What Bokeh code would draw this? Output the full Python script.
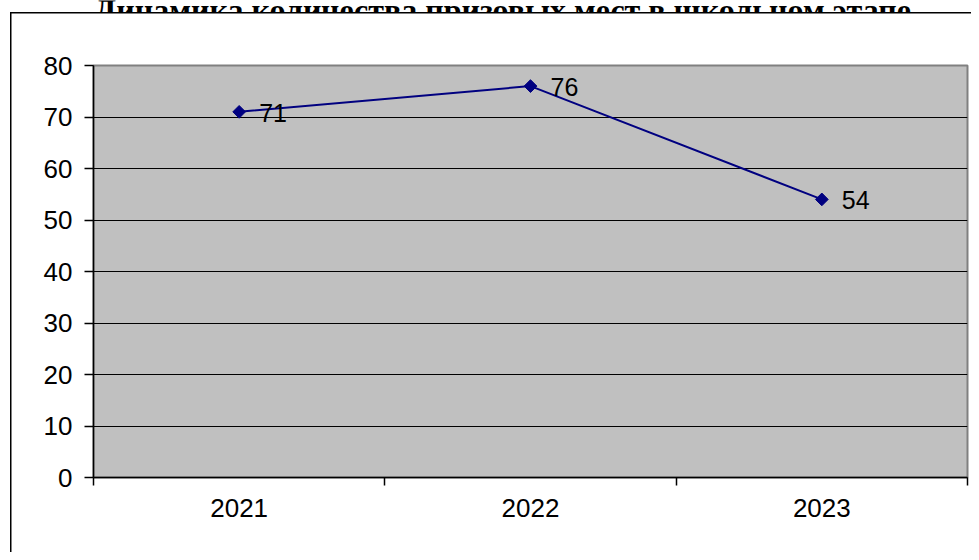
import math
from bokeh.plotting import figure
from bokeh.layouts import column
from bokeh.models import Range1d, FixedTicker, ColumnDataSource
from bokeh.core.properties import value
from bokeh.embed import file_html
from bokeh.resources import INLINE

# ---- data ----
title_text = "Динамика количества призовых мест в школьном этапе"
years = ["2021", "2022", "2023"]
values = [71, 76, 54]
y_ticks = [0, 10, 20, 30, 40, 50, 60, 70, 80]

xs = [i + 0.5 for i in range(len(years))]
src = ColumnDataSource(dict(x=xs, y=values, lbl=[str(v) for v in values]))

W = 971
TH = 12          # height of the (clipped) title strip
H = 540

# ---- title strip: the title is cut off at the top, as in the reference ----
t = figure(width=W, height=TH, output_backend="svg", toolbar_location=None,
           x_range=Range1d(0, W), y_range=Range1d(0, TH),
           x_axis_location=None, y_axis_location=None,
           min_border=0, min_border_left=0, min_border_right=0,
           min_border_top=0, min_border_bottom=0)
t.grid.visible = False
t.outline_line_color = None
t.background_fill_color = "white"
t.border_fill_color = "white"
t.text(x=[W / 2 - 31], y=[TH - 9.5], text=[title_text],
       text_align="center", text_baseline="alphabetic",
       text_font=value("Liberation Serif"), text_font_style="bold",
       text_font_size="32px", text_color="black")

# ---- main chart ----
p = figure(width=W, height=H, output_backend="svg", toolbar_location=None,
           x_range=Range1d(0, len(years)), y_range=Range1d(0, 80),
           min_border_left=93, min_border_top=53, min_border_right=4,
           min_border_bottom=75)

# outer chart border drawn by the host element's background
p.border_fill_color = None
p.styles = {
    "background-color": "white",
    "background-image": "linear-gradient(black, black), linear-gradient(black, black)",
    "background-size": "1.5px 100%, 100% 1.5px",
    "background-position": "10px 0px, 10px 0px",
    "background-repeat": "no-repeat",
}

p.background_fill_color = "#C0C0C0"
p.outline_line_color = "#808080"
p.outline_line_width = 2

# x axis
p.xaxis.ticker = FixedTicker(ticks=xs, minor_ticks=list(range(len(years) + 1)))
p.xaxis.major_label_overrides = {x: y for x, y in zip(xs, years)}
p.xaxis.major_tick_out = 0
p.xaxis.major_tick_in = 0
p.xaxis.minor_tick_out = 8
p.xaxis.minor_tick_in = 0
p.xaxis.minor_tick_line_color = "black"
p.xaxis.minor_tick_line_width = 1.5
p.xaxis.major_label_standoff = 13

# y axis
p.yaxis.ticker = FixedTicker(ticks=y_ticks, minor_ticks=[])
p.yaxis.major_tick_out = 9
p.yaxis.major_tick_in = 0
p.yaxis.major_label_standoff = 12

for ax in (p.xaxis, p.yaxis):
    ax.axis_line_color = "black"
    ax.axis_line_width = 1.5
    ax.major_tick_line_color = "black"
    ax.major_tick_line_width = 1.5
    ax.major_label_text_font = "Liberation Sans"
    ax.major_label_text_font_size = "26px"
    ax.major_label_text_color = "black"

p.xgrid.visible = False
p.ygrid.ticker = FixedTicker(ticks=y_ticks[1:-1])
p.ygrid.grid_line_color = "black"
p.ygrid.grid_line_width = 1.2
p.ygrid.grid_line_alpha = 1

# series
p.line("x", "y", source=src, line_color="#000080", line_width=2)
p.scatter("x", "y", source=src, marker="square", size=9, angle=math.pi / 4,
          fill_color="#000080", line_color="#000080")
p.text("x", "y", text="lbl", source=src, x_offset=20, y_offset=1,
       text_align="left", text_baseline="middle",
       text_font=value("Liberation Sans"), text_font_size="25px",
       text_color="black")

layout = column(t, p, spacing=0)
open("out.html", "w").write(file_html(layout, INLINE))
